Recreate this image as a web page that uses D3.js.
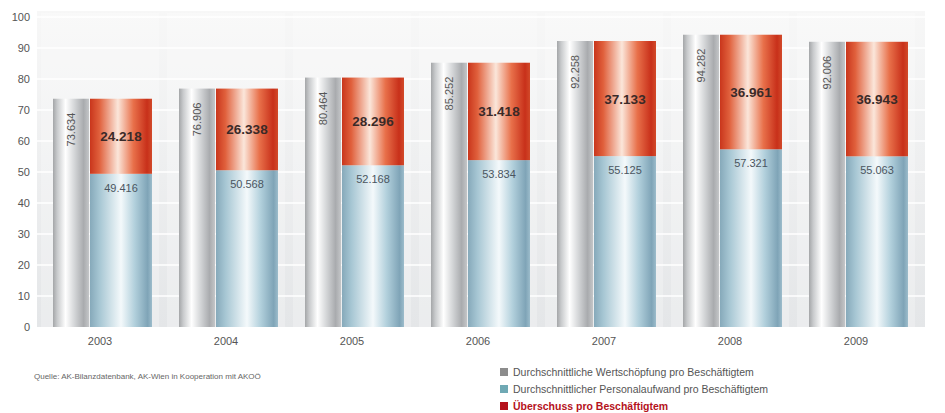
<!DOCTYPE html>
<html><head><meta charset="utf-8">
<script src="https://cdn.jsdelivr.net/npm/d3@7"></script>
<style>body{margin:0;background:#fff;}svg{display:block;font-family:Arial,"Liberation Sans",sans-serif;}</style>
</head><body>
<svg id="c" width="945" height="413"></svg>
<script>
const years = ["2003","2004","2005","2006","2007","2008","2009"];
const wertschoepfung = [73.634, 76.906, 80.464, 85.252, 92.258, 94.282, 92.006];
const personalaufwand = [49.416, 50.568, 52.168, 53.834, 55.125, 57.321, 55.063];
const ueberschuss = [24.218, 26.338, 28.296, 31.418, 37.133, 36.961, 36.943];
const yTicks = [0,10,20,30,40,50,60,70,80,90,100];
const legendLabels = ["Durchschnittliche Wertschöpfung pro Beschäftigtem","Durchschnittlicher Personalaufwand pro Beschäftigtem","Überschuss pro Beschäftigtem"];
const sourceText = "Quelle: AK-Bilanzdatenbank, AK-Wien in Kooperation mit AKOÖ";

const fmt = v => v.toFixed(3);
const svg = d3.select("#c");
const y = d3.scaleLinear().domain([0,100]).range([327,17]);
const x = d3.scaleBand().domain(years).range([37,919]).padding(0);

const defs = svg.append("defs");
function grad(id, stops){
  const g = defs.append("linearGradient").attr("id",id).attr("x1","0").attr("x2","1").attr("y1","0").attr("y2","0");
  stops.forEach(s=>g.append("stop").attr("offset",s[0]).attr("stop-color",s[1]));
}
grad("gGray",[[0,"#a4a6a8"],[0.12,"#c9cbcd"],[0.35,"#ffffff"],[0.6,"#d3d5d7"],[0.85,"#a9abae"],[1,"#c4c6c8"]]);
grad("gRed",[[0,"#c9361c"],[0.15,"#e0603c"],[0.45,"#fbe6da"],[0.7,"#e8704a"],[0.92,"#c8301a"],[1,"#d24a2a"]]);
grad("gBlue",[[0,"#86a9ba"],[0.15,"#a6c6d3"],[0.5,"#f4f9fb"],[0.72,"#b2d0dc"],[0.93,"#7fa4b7"],[1,"#9cbccb"]]);
const bg = defs.append("linearGradient").attr("id","gBg").attr("x1","0").attr("x2","0").attr("y1","0").attr("y2","1");
bg.append("stop").attr("offset",0).attr("stop-color","#f7f7f7");
bg.append("stop").attr("offset",1).attr("stop-color","#e4e6e8");

// plot background
svg.append("rect").attr("x",37).attr("y",y(100)-6).attr("width",888).attr("height",y(0)-y(100)+6).attr("fill","url(#gBg)");
// group panels
svg.append("g").selectAll("rect").data(years).join("rect")
  .attr("x",d=>x(d)+4).attr("y",y(100)-4).attr("width",x.bandwidth()-8).attr("height",y(0)-y(100)+4)
  .attr("fill","#ffffff").attr("opacity",0.25);
// grid
svg.append("g").selectAll("line").data(yTicks.slice(1)).join("line")
  .attr("x1",37).attr("x2",925).attr("y1",d=>y(d)).attr("y2",d=>y(d))
  .attr("stroke","#ffffff").attr("stroke-width",1.5);

// y axis labels
const yAxis = d3.axisLeft(y).tickValues(yTicks).tickSize(0).tickPadding(0);
const ya = svg.append("g").attr("transform","translate(30,0)").call(yAxis);
ya.select(".domain").remove();
ya.selectAll("text").attr("fill","#555").style("font-size","11px").attr("dy","0.35em");

// x axis labels
const xAxis = d3.axisBottom(x).tickSize(0).tickPadding(0);
const xa = svg.append("g").attr("transform","translate(0,337)").call(xAxis);
xa.select(".domain").remove();
xa.selectAll("text").attr("fill","#555").style("font-size","11px").attr("dy","0.71em");

const data = years.map((yr,i)=>({yr, w:wertschoepfung[i], p:personalaufwand[i], u:ueberschuss[i]}));
const gOff = 16, gW = 36, sOff = 53, sW = 62;

// gray bars
svg.append("g").selectAll("rect").data(data).join("rect")
  .attr("x",d=>x(d.yr)+gOff).attr("width",gW)
  .attr("y",d=>y(d.w)).attr("height",d=>y(0)-y(d.w)).attr("fill","url(#gGray)");
// blue segments
svg.append("g").selectAll("rect").data(data).join("rect")
  .attr("x",d=>x(d.yr)+sOff).attr("width",sW)
  .attr("y",d=>y(d.p)).attr("height",d=>y(0)-y(d.p)).attr("fill","url(#gBlue)");
// red segments
svg.append("g").selectAll("rect").data(data).join("rect")
  .attr("x",d=>x(d.yr)+sOff).attr("width",sW)
  .attr("y",d=>y(d.p+d.u)).attr("height",d=>y(d.p)-y(d.p+d.u)).attr("fill","url(#gRed)");

// labels
svg.append("g").selectAll("text").data(data).join("text")
  .attr("transform",d=>`translate(${x(d.yr)+gOff+gW/2+4},${y(d.w)+14}) rotate(-90)`)
  .attr("text-anchor","end").attr("fill","#555").style("font-size","11px")
  .text(d=>fmt(d.w));
svg.append("g").selectAll("text").data(data).join("text")
  .attr("x",d=>x(d.yr)+sOff+sW/2).attr("y",d=>(y(d.p)+y(d.p+d.u))/2+5)
  .attr("text-anchor","middle").attr("fill","#3a2a28").style("font-size","13.5px").style("font-weight","bold")
  .text(d=>fmt(d.u));
svg.append("g").selectAll("text").data(data).join("text")
  .attr("x",d=>x(d.yr)+sOff+sW/2).attr("y",d=>y(d.p)+18)
  .attr("text-anchor","middle").attr("fill","#4a5560").style("font-size","11px")
  .text(d=>fmt(d.p));

// source
svg.append("text").attr("x",34).attr("y",379).attr("fill","#666").style("font-size","8px").text(sourceText);

// legend
const legColors = ["#8c8c8c","#6fa9b4","#b5121b"];
const lg = svg.append("g").selectAll("g").data(legendLabels).join("g")
  .attr("transform",(d,i)=>`translate(500,${372+i*17})`);
lg.append("rect").attr("x",0).attr("y",-4).attr("width",8).attr("height",8).attr("fill",(d,i)=>legColors[i]);
lg.append("text").attr("x",13).attr("y",4).style("font-size","10.5px")
  .attr("fill",(d,i)=>i===2?"#b5121b":"#555").style("font-weight",(d,i)=>i===2?"bold":"normal")
  .text(d=>d);
</script>
</body></html>
